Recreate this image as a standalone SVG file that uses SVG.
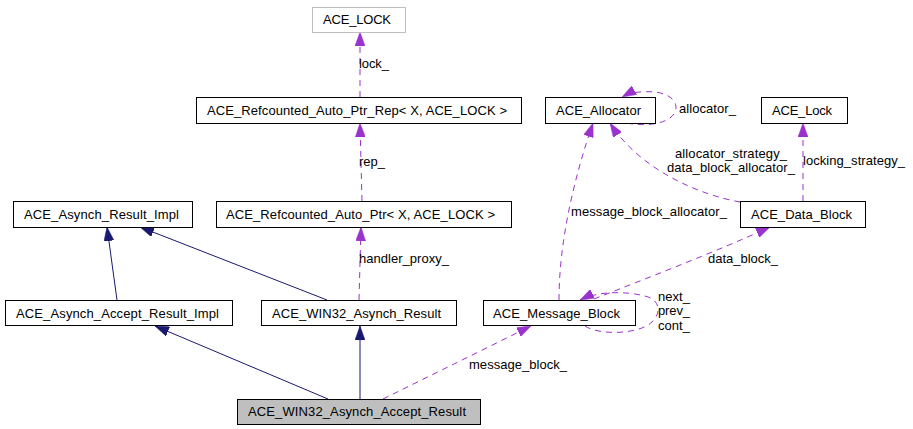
<svg xmlns="http://www.w3.org/2000/svg" width="913" height="429" viewBox="0 0 913 429">
<style>
.node rect{fill:#ffffff;stroke:#000000;stroke-width:1}
.node.gray rect{stroke:#bfbfbf}
.node.focus rect{fill:#bfbfbf}
text{font-family:"Liberation Sans",Arial,sans-serif;font-size:13px;fill:#000000}
.inh{fill:none;stroke:#191970;stroke-width:1}
.use{fill:none;stroke:#9a32cd;stroke-width:1;stroke-dasharray:6,5}
</style>
<defs>
<marker id="navyArrow" markerUnits="userSpaceOnUse" viewBox="0 0 14 10" markerWidth="14" markerHeight="10" refX="14" refY="5" orient="auto">
<path d="M0,0 L14,5 L0,10 z" fill="#191970" stroke="#191970" stroke-width="0.5"/>
</marker>
<marker id="purpleArrow" markerUnits="userSpaceOnUse" viewBox="0 0 14 10" markerWidth="14" markerHeight="10" refX="14" refY="5" orient="auto">
<path d="M0,0 L14,5 L0,10 z" fill="#9a32cd" stroke="#9a32cd" stroke-width="0.5"/>
</marker>
</defs>
<rect x="0" y="0" width="913" height="429" fill="#ffffff"/>

<g id="connectors">
<path class="inh" d="M328,399 L155,326" marker-end="url(#navyArrow)"/>
<path class="inh" d="M360,399 L360,326" marker-end="url(#navyArrow)"/>
<path class="inh" d="M117,300 L107,227" marker-end="url(#navyArrow)"/>
<path class="inh" d="M327,300 L140,227" marker-end="url(#navyArrow)"/>
<path class="use" d="M362,201 L360,123" marker-end="url(#purpleArrow)"/>
<path class="use" d="M360,97 L360,32" marker-end="url(#purpleArrow)"/>
<path class="use" d="M359,300 L361,227" marker-end="url(#purpleArrow)"/>
<path class="use" d="M383,399 L531,326" marker-end="url(#purpleArrow)"/>
<path class="use" d="M559,300 C559,240 575,175 593,123" marker-end="url(#purpleArrow)"/>
<path class="use" d="M740,202 C700,195 640,170 610,123" marker-end="url(#purpleArrow)"/>
<path class="use" d="M803,201 L803,123" marker-end="url(#purpleArrow)"/>
<path class="use" d="M594,299 C650,277 720,250 770,227" marker-end="url(#purpleArrow)"/>
<path class="use" d="M585,326 C600,336 640,334 652,322 C662,312 660,300 645,296 C625,291 598,291 580,300" marker-end="url(#purpleArrow)"/>
<path class="use" d="M627,123 C640,126 665,126 674,114 C680,104 672,94 655,92 C642,91 631,92 622,97" marker-end="url(#purpleArrow)"/>
<text x="359" y="68" textLength="30" lengthAdjust="spacing">lock_</text>
<text x="359" y="166" textLength="26" lengthAdjust="spacing">rep_</text>
<text x="359" y="263" textLength="90" lengthAdjust="spacing">handler_proxy_</text>
<text x="679" y="113" textLength="57" lengthAdjust="spacing">allocator_</text>
<text x="675" y="158" textLength="112" lengthAdjust="spacing">allocator_strategy_</text>
<text x="667" y="172" textLength="128" lengthAdjust="spacing">data_block_allocator_</text>
<text x="803" y="165" textLength="102" lengthAdjust="spacing">locking_strategy_</text>
<text x="571" y="216" textLength="156" lengthAdjust="spacing">message_block_allocator_</text>
<text x="708" y="263" textLength="70" lengthAdjust="spacing">data_block_</text>
<text x="658" y="301" textLength="32" lengthAdjust="spacing">next_</text>
<text x="658" y="315" textLength="32" lengthAdjust="spacing">prev_</text>
<text x="658" y="330" textLength="32" lengthAdjust="spacing">cont_</text>
<text x="469" y="369" textLength="98" lengthAdjust="spacing">message_block_</text>
</g>

<g id="node_ACE_LOCK" class="node gray">
<rect x="312.5" y="7.5" width="93" height="25"/>
<text x="323" y="24" textLength="68" lengthAdjust="spacing">ACE_LOCK</text>
</g>
<g id="node_ACE_Refcounted_Auto_Ptr_Rep" class="node">
<rect x="196.5" y="97.5" width="325" height="26"/>
<text x="207" y="115" textLength="300" lengthAdjust="spacing">ACE_Refcounted_Auto_Ptr_Rep&lt; X, ACE_LOCK &gt;</text>
</g>
<g id="node_ACE_Refcounted_Auto_Ptr" class="node">
<rect x="216.5" y="201.5" width="295" height="26"/>
<text x="226" y="219" textLength="269" lengthAdjust="spacing">ACE_Refcounted_Auto_Ptr&lt; X, ACE_LOCK &gt;</text>
</g>
<g id="node_ACE_Asynch_Result_Impl" class="node">
<rect x="13.5" y="201.5" width="179" height="26"/>
<text x="24" y="219" textLength="155" lengthAdjust="spacing">ACE_Asynch_Result_Impl</text>
</g>
<g id="node_ACE_Asynch_Accept_Result_Impl" class="node">
<rect x="5.5" y="300.5" width="227" height="25"/>
<text x="16" y="318" textLength="203" lengthAdjust="spacing">ACE_Asynch_Accept_Result_Impl</text>
</g>
<g id="node_ACE_WIN32_Asynch_Result" class="node">
<rect x="261.5" y="300.5" width="195" height="25"/>
<text x="272" y="318" textLength="169" lengthAdjust="spacing">ACE_WIN32_Asynch_Result</text>
</g>
<g id="node_ACE_WIN32_Asynch_Accept_Result" class="node focus">
<rect x="237.5" y="399.5" width="243" height="25"/>
<text x="248" y="416" textLength="218" lengthAdjust="spacing">ACE_WIN32_Asynch_Accept_Result</text>
</g>
<g id="node_ACE_Allocator" class="node">
<rect x="545.5" y="97.5" width="110" height="26"/>
<text x="556" y="115" textLength="85" lengthAdjust="spacing">ACE_Allocator</text>
</g>
<g id="node_ACE_Lock" class="node">
<rect x="761.5" y="97.5" width="86" height="26"/>
<text x="772" y="115" textLength="60" lengthAdjust="spacing">ACE_Lock</text>
</g>
<g id="node_ACE_Data_Block" class="node">
<rect x="740.5" y="201.5" width="125" height="26"/>
<text x="751" y="219" textLength="101" lengthAdjust="spacing">ACE_Data_Block</text>
</g>
<g id="node_ACE_Message_Block" class="node">
<rect x="483.5" y="300.5" width="152" height="25"/>
<text x="493" y="318" textLength="127" lengthAdjust="spacing">ACE_Message_Block</text>
</g>
</svg>
